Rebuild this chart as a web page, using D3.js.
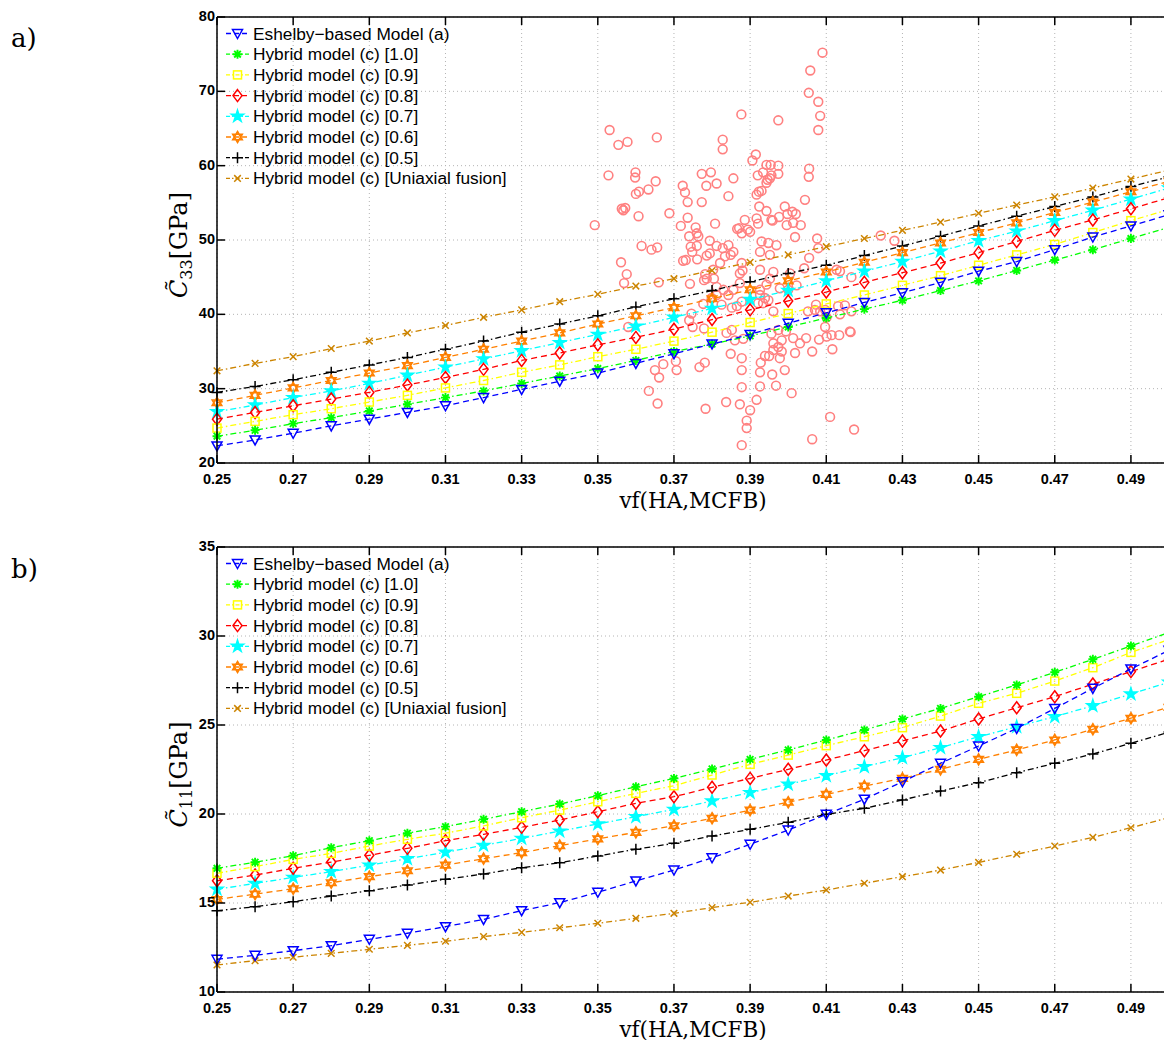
<!DOCTYPE html>
<html><head><meta charset="utf-8">
<script src="https://cdnjs.cloudflare.com/ajax/libs/d3/7.8.5/d3.min.js"></script>
<style>body{margin:0;background:#fff}svg{display:block}</style>
</head><body>
<svg id="c" width="1164" height="1040"></svg>
<script>
// ---------------- DATA ----------------
const vf = [0.25,0.26,0.27,0.28,0.29,0.30,0.31,0.32,0.33,0.34,0.35,0.36,0.37,0.38,0.39,0.40,0.41,0.42,0.43,0.44,0.45,0.46,0.47,0.48,0.49,0.50];
const xTicks = [0.25,0.27,0.29,0.31,0.33,0.35,0.37,0.39,0.41,0.43,0.45,0.47,0.49];
const yTicksTop = [20,30,40,50,60,70,80];
const yTicksBottom = [10,15,20,25,30,35];
const seriesNames = ["Eshelby\u2212based Model (a)","Hybrid model (c) [1.0]","Hybrid model (c) [0.9]","Hybrid model (c) [0.8]","Hybrid model (c) [0.7]","Hybrid model (c) [0.6]","Hybrid model (c) [0.5]","Hybrid model (c) [Uniaxial fusion]"];

// C33 (top panel)
const c33Eshelby = [22.3,23.1,24.0,25.0,25.9,26.8,27.7,28.8,29.9,31.0,32.1,33.4,34.7,36.0,37.3,38.8,40.2,41.6,42.9,44.3,45.8,47.1,48.7,50.4,51.9,53.4];
const c33H10 = [23.6,24.4,25.3,26.1,27.0,27.9,28.8,29.7,30.7,31.7,32.7,33.8,35.0,36.0,37.1,38.3,39.5,40.7,41.9,43.2,44.5,45.9,47.3,48.7,50.2,51.7];
const c33H09 = [24.7,25.6,26.5,27.3,28.2,29.1,30.1,31.1,32.2,33.2,34.3,35.3,36.4,37.6,38.9,40.1,41.4,42.6,43.9,45.2,46.6,48.0,49.4,51.0,52.6,54.1];
const c33H08 = [25.9,26.8,27.7,28.6,29.5,30.5,31.5,32.6,33.8,34.8,35.9,36.9,38.0,39.3,40.6,41.8,43.0,44.3,45.6,46.9,48.3,49.8,51.3,52.7,54.2,55.7];
const c33H07 = [26.9,27.8,28.8,29.7,30.7,31.8,32.9,34.0,35.1,36.2,37.3,38.4,39.6,40.8,42.0,43.2,44.5,45.8,47.1,48.5,49.9,51.2,52.6,54.0,55.5,57.0];
const c33H06 = [28.1,29.1,30.1,31.1,32.1,33.1,34.2,35.3,36.4,37.5,38.7,39.8,40.9,42.1,43.3,44.5,45.7,47.0,48.3,49.6,51.0,52.3,53.7,55.1,56.5,57.9];
const c33H05 = [29.5,30.3,31.2,32.2,33.2,34.2,35.3,36.4,37.6,38.7,39.8,41.0,42.1,43.2,44.4,45.5,46.6,47.9,49.2,50.5,51.9,53.2,54.5,55.8,57.2,58.5];
const c33Uni = [32.4,33.4,34.3,35.4,36.4,37.5,38.5,39.6,40.6,41.7,42.7,43.8,44.8,45.9,47.0,48.0,49.1,50.2,51.3,52.4,53.6,54.7,55.8,57.0,58.2,59.4];

// C11 (bottom panel)
const c11Eshelby = [11.84,12.06,12.32,12.6,12.96,13.3,13.67,14.08,14.57,15.02,15.6,16.24,16.85,17.54,18.3,19.1,19.98,20.83,21.81,22.85,23.82,24.81,25.93,27.06,28.15,29.2];
const c11H10 = [16.95,17.29,17.66,18.11,18.5,18.92,19.29,19.7,20.13,20.56,21.03,21.53,22.0,22.53,23.07,23.6,24.16,24.72,25.34,25.93,26.59,27.25,27.96,28.69,29.44,30.2];
const c11H09 = [16.67,17.04,17.45,17.79,18.2,18.58,18.92,19.33,19.79,20.22,20.69,21.16,21.59,22.19,22.79,23.31,23.84,24.34,24.85,25.5,26.22,26.78,27.47,28.22,29.08,29.8];
const c11H08 = [16.25,16.57,16.95,17.3,17.68,18.07,18.5,18.86,19.25,19.66,20.13,20.6,20.97,21.5,22.0,22.51,23.03,23.56,24.1,24.66,25.34,25.97,26.59,27.3,28.0,28.7];
const c11H07 = [15.77,16.1,16.44,16.76,17.13,17.49,17.85,18.24,18.63,19.04,19.44,19.85,20.26,20.73,21.2,21.67,22.15,22.66,23.16,23.73,24.34,24.9,25.47,26.08,26.74,27.4];
const c11H06 = [15.2,15.5,15.8,16.14,16.48,16.81,17.13,17.49,17.83,18.22,18.6,18.97,19.34,19.76,20.22,20.66,21.1,21.57,22.0,22.51,23.07,23.6,24.16,24.76,25.38,26.0];
const c11H05 = [14.57,14.79,15.07,15.39,15.69,16.01,16.33,16.63,16.98,17.26,17.64,18.02,18.35,18.76,19.14,19.53,19.98,20.32,20.79,21.29,21.76,22.32,22.85,23.37,23.97,24.6];
const c11Uni = [11.52,11.76,11.95,12.17,12.4,12.62,12.85,13.11,13.35,13.61,13.86,14.14,14.42,14.74,15.04,15.39,15.73,16.11,16.48,16.85,17.28,17.74,18.2,18.69,19.23,19.8];

// Measured samples (top panel scatter)
const sampleVf = [0.4090,0.4058,0.4054,0.4079,0.4084,0.4079,0.3877,0.3974,0.3531,0.3554,0.3578,0.3655,0.3828,0.3828,0.3906,0.3915,0.3528,0.3599,0.3598,0.3600,0.3608,0.3633,0.3652,0.3563,0.3572,0.3567,0.3607,0.3688,0.3723,0.3729,0.3736,0.3773,0.3797,0.3785,0.3812,0.3773,0.3856,0.3843,0.3736,0.3718,0.3757,0.3740,0.3764,0.3760,0.3808,0.3794,0.3871,0.3866,0.3886,0.3894,0.3920,0.3934,0.3943,0.3954,0.3974,0.3974,0.3956,0.3943,0.3946,0.3952,0.3917,0.3930,0.3923,0.3924,0.3943,0.3917,0.3921,0.3956,0.3959,0.3976,0.3991,0.3998,0.4011,0.4020,0.3996,0.4013,0.4033,0.4044,0.4055,0.4054,0.4018,0.4076,0.3615,0.3641,0.3656,0.3492,0.3561,0.3576,0.3569,0.3660,0.3744,0.3760,0.3748,0.3724,0.3731,0.3761,0.3786,0.3794,0.3812,0.3782,0.3779,0.3786,0.3805,0.3742,0.3812,0.3580,0.3740,0.3749,0.3779,0.3746,0.3777,0.3803,0.3828,0.3843,0.3856,0.3849,0.3821,0.3834,0.3878,0.3873,0.3880,0.3873,0.3856,0.3830,0.3843,0.3812,0.3799,0.3825,0.3852,0.3865,0.3878,0.3838,0.3852,0.3860,0.3882,0.3849,0.3878,0.3878,0.3767,0.3781,0.3650,0.3672,0.3661,0.3707,0.3705,0.3634,0.3657,0.3783,0.3837,0.3873,0.3878,0.3900,0.3917,0.3891,0.3891,0.3878,0.3926,0.3968,0.3926,0.3958,0.3928,0.3939,0.3950,0.3961,0.3974,0.3983,0.3978,0.3991,0.3961,0.3983,0.3956,0.3974,0.3994,0.4009,0.4031,0.4047,0.4063,0.4081,0.4101,0.4116,0.4114,0.4134,0.4164,0.4097,0.4101,0.4073,0.4084,0.4097,0.4052,0.4070,0.3961,0.3934,0.3921,0.3926,0.3939,0.3948,0.3926,0.3943,0.3961,0.3978,0.4000,0.4022,0.4042,0.4055,0.4079,0.4127,0.4110,0.4173,0.4063,0.3926,0.3952,0.3969,0.3926,0.3952,0.3878,0.3900,0.3930,0.3948,0.4005,0.4131,0.4166,0.4013,0.4018,0.4243,0.4279,0.4166,0.4136,0.4149,0.4136,0.4162];
const sampleC33 = [75.2,72.8,69.8,68.6,66.7,64.8,66.9,66.1,64.8,62.8,63.2,63.8,63.5,62.2,60.7,61.5,58.7,59.1,58.4,56.2,56.5,56.8,57.9,54.2,54.3,54.0,53.2,53.6,57.3,56.4,55.1,58.9,59.1,57.3,57.6,55.1,58.3,55.9,53.0,51.9,51.7,50.5,50.5,50.9,52.2,49.9,51.6,51.5,52.7,51.4,58.7,59.1,60.1,60.1,60.0,58.9,58.7,57.7,58.1,58.3,56.1,56.6,56.5,54.5,53.9,52.9,52.2,52.7,52.6,53.1,54.5,53.5,53.8,53.5,52.0,52.3,52.0,55.4,59.6,58.5,50.4,50.2,49.2,48.7,49.0,52.0,47.0,45.4,44.2,44.3,49.1,49.2,48.4,47.2,47.3,47.4,47.9,48.2,49.2,45.4,44.6,44.8,44.8,44.1,43.7,38.3,39.2,38.3,38.1,40.1,41.4,46.0,48.9,49.3,48.4,48.0,46.9,47.8,46.9,45.5,45.9,44.2,43.3,43.3,42.6,42.6,42.2,41.3,40.9,41.1,41.7,37.5,37.9,36.5,36.7,34.7,34.1,32.5,32.9,33.5,32.5,33.3,31.5,32.5,33.7,29.7,28.0,27.3,28.2,27.9,30.2,27.1,28.5,25.7,24.7,22.4,30.3,30.4,32.2,31.9,33.5,34.4,34.4,35.2,35.6,35.0,34.1,32.5,36.1,36.5,37.4,37.9,37.7,29.4,36.1,36.8,35.0,36.6,37.0,35.3,37.2,37.2,37.6,38.3,39.6,41.3,40.4,40.6,40.4,40.6,40.4,41.5,41.5,42.6,42.2,41.9,43.3,44.0,45.7,43.5,43.3,43.9,46.2,47.6,48.9,46.0,26.2,24.5,23.2,48.4,48.0,49.3,46.0,44.8,50.9,51.1,49.8,49.6,45.5,41.1,40.4,36.8,34.8,50.6,49.9,45.0,45.8,41.2,40.0,37.7];

// ---------------- STYLES ----------------
const styles = [
  {color:"#0000ff", dash:"6,4",        marker:"triDown"},
  {color:"#00ff00", dash:"6,3,1.5,3",  marker:"asterisk"},
  {color:"#ffff00", dash:"6,3,1.5,3",  marker:"square"},
  {color:"#ff0000", dash:"6,4",        marker:"diamond"},
  {color:"#00ffff", dash:"6,3,1.5,3",  marker:"pentagram"},
  {color:"#ff8000", dash:"6,4",        marker:"hexagram"},
  {color:"#000000", dash:"6,3,1.5,3",  marker:"plus"},
  {color:"#cc8400", dash:"6,3,1.5,3",  marker:"cross"}
];

const svg = d3.select("#c");
const X0 = 217, X1 = 1169;
const x = d3.scaleLinear().domain([0.25,0.50]).range([X0,X1]);

function drawMarker(g, type, color, cx, cy){
  const m = g.append("g").attr("transform",`translate(${cx},${cy})`);
  const st = {fill:"none", stroke:color, "stroke-width":1.5};
  const ap = (el)=>{Object.entries(st).forEach(([k,v])=>el.attr(k,v)); return el;};
  if(type==="triDown"){ ap(m.append("path").attr("d","M-5,-4L5,-4L0,5Z")); }
  else if(type==="asterisk"){ ap(m.append("path").attr("d","M-4.5,0H4.5M0,-4.5V4.5M-3.3,-3.3L3.3,3.3M-3.3,3.3L3.3,-3.3")).attr("stroke-width",1.9); }
  else if(type==="square"){ ap(m.append("rect").attr("x",-4).attr("y",-4).attr("width",8).attr("height",8)); }
  else if(type==="diamond"){ ap(m.append("path").attr("d","M0,-6L4.5,0L0,6L-4.5,0Z")); }
  else if(type==="pentagram"){ ap(m.append("path").attr("d", d3.symbol().type(d3.symbolStar).size(42)())).attr("stroke-width",1.6).attr("fill",color); }
  else if(type==="hexagram"){ ap(m.append("path").attr("d","M0,-5.5L4.76,2.75L-4.76,2.75ZM0,5.5L4.76,-2.75L-4.76,-2.75Z")).attr("stroke-width",1.6); }
  else if(type==="plus"){ ap(m.append("path").attr("d","M-5.5,0H5.5M0,-5.5V5.5")); }
  else if(type==="cross"){ ap(m.append("path").attr("d","M-3.3,-3.3L3.3,3.3M-3.3,3.3L3.3,-3.3")); }
}

function panel(opts){
  const {yTop,yBot,domain,ticks,series,scatter,sub,letter,letterY} = opts;
  const y = d3.scaleLinear().domain(domain).range([yBot,yTop]);
  const g = svg.append("g");
  // grid
  const grid = g.append("g").attr("stroke","#b4b4b4").attr("stroke-width",1).attr("stroke-dasharray","1,3");
  xTicks.forEach(t=>grid.append("line").attr("x1",x(t)).attr("x2",x(t)).attr("y1",yTop).attr("y2",yBot));
  ticks.forEach(t=>grid.append("line").attr("x1",X0).attr("x2",X1).attr("y1",y(t)).attr("y2",y(t)));
  // scatter
  if(scatter){
    const sg = g.append("g");
    scatter[0].forEach((v,i)=>sg.append("circle").attr("cx",x(v)).attr("cy",y(scatter[1][i])).attr("r",4.4)
      .attr("fill","none").attr("stroke","#ff8080").attr("stroke-width",1.6));
  }
  // series lines and markers (reverse order so first legend entry is on top)
  const line = d3.line().x((d,i)=>x(vf[i])).y(d=>y(d));
  for(let k=series.length-1;k>=0;k--){
    const s = styles[k];
    g.append("path").datum(series[k]).attr("d",line).attr("fill","none")
      .attr("stroke",s.color).attr("stroke-width",1.3).attr("stroke-dasharray",s.dash);
    series[k].forEach((v,i)=>drawMarker(g,s.marker,s.color,x(vf[i]),y(v)));
  }
  // axes
  const ax = g.append("g").attr("stroke","#000").attr("stroke-width",1.5);
  ax.append("line").attr("x1",X0).attr("x2",X1).attr("y1",yBot).attr("y2",yBot);
  ax.append("line").attr("x1",X0).attr("x2",X1).attr("y1",yTop).attr("y2",yTop);
  ax.append("line").attr("x1",X0).attr("x2",X0).attr("y1",yTop).attr("y2",yBot);
  xTicks.forEach(t=>{
    ax.append("line").attr("x1",x(t)).attr("x2",x(t)).attr("y1",yBot).attr("y2",yBot-8);
    ax.append("line").attr("x1",x(t)).attr("x2",x(t)).attr("y1",yTop).attr("y2",yTop+8);
  });
  ticks.forEach(t=>ax.append("line").attr("x1",X0).attr("x2",X0+8).attr("y1",y(t)).attr("y2",y(t)));
  const tf = "'Liberation Sans', Arial, sans-serif";
  xTicks.forEach(t=>g.append("text").attr("x",x(t)).attr("y",yBot+20.5).attr("text-anchor","middle")
    .attr("font-family",tf).attr("font-weight","bold").attr("font-size",14.5).text(t.toFixed(2)));
  ticks.forEach(t=>g.append("text").attr("x",X0-2).attr("y",y(t)+4).attr("text-anchor","end")
    .attr("font-family",tf).attr("font-weight","bold").attr("font-size",14.5).text(t));
  // x label
  g.append("text").attr("x",(X0+X1)/2).attr("y",yBot+44.5).attr("text-anchor","middle")
    .attr("font-family","'DejaVu Serif', serif").attr("font-size",21.5).text("vf(HA,MCFB)");
  // y label
  const yl = g.append("text").attr("transform",`translate(187,${(yTop+yBot)/2+5}) rotate(-90)`)
    .attr("text-anchor","middle").attr("font-family","'DejaVu Serif', serif").attr("font-size",24);
  yl.append("tspan").attr("font-style","italic").text("C\u0303");
  yl.append("tspan").attr("font-size",16).attr("dy",5).text(sub);
  yl.append("tspan").attr("dy",-5).text("[GPa]");
  // panel letter
  g.append("text").attr("x",11).attr("y",letterY).attr("font-family","'DejaVu Serif', serif").attr("font-size",26).text(letter);
  // legend
  const lg = g.append("g");
  seriesNames.forEach((n,i)=>{
    const ly = yTop + 16.5 + i*20.7;
    const s = styles[i];
    lg.append("line").attr("x1",226).attr("x2",249).attr("y1",ly).attr("y2",ly)
      .attr("stroke",s.color).attr("stroke-width",1.3).attr("stroke-dasharray", s.dash==="6,4"?"5,3":"4,2,1.5,2");
    drawMarker(lg,s.marker,s.color,237.5,ly);
    lg.append("text").attr("x",253).attr("y",ly+6).attr("font-family",tf).attr("font-size",17.3).text(n);
  });
}

panel({yTop:17, yBot:463, domain:[20,80], ticks:yTicksTop,
  series:[c33Eshelby,c33H10,c33H09,c33H08,c33H07,c33H06,c33H05,c33Uni],
  scatter:[sampleVf,sampleC33], sub:"33", letter:"a)", letterY:47});
panel({yTop:547, yBot:992, domain:[10,35], ticks:yTicksBottom,
  series:[c11Eshelby,c11H10,c11H09,c11H08,c11H07,c11H06,c11H05,c11Uni],
  scatter:null, sub:"11", letter:"b)", letterY:578});
</script>
</body></html>
